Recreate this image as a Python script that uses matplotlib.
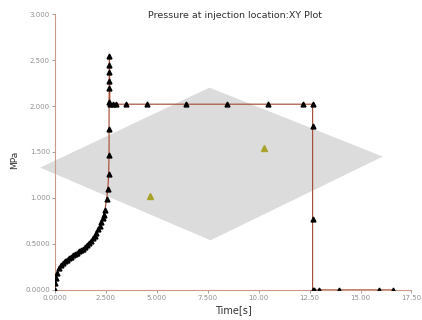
import numpy as np
import matplotlib.pyplot as plt
from matplotlib.patches import Polygon
from matplotlib.ticker import FixedLocator, FixedFormatter

# datos (tiempo en s, presion en MPa)
tiempo = [0.0, 0.03, 0.06, 0.10, 0.18, 0.28, 0.38, 0.48, 0.58, 0.68, 0.78, 0.88,
          0.98, 1.08, 1.18, 1.28, 1.38, 1.48, 1.58, 1.68, 1.78, 1.88, 1.96, 2.04,
          2.12, 2.20, 2.27, 2.34, 2.40, 2.46, 2.54, 2.60, 2.64, 2.66, 2.66, 2.66,
          2.67, 2.67, 2.67, 2.67, 2.68, 2.70, 2.85, 3.00, 3.50, 4.54, 6.44, 8.45,
          10.45, 12.19, 12.65, 12.65, 12.65, 12.65, 12.70, 12.97, 13.93, 15.90, 16.60]
presion = [0.0, 0.08, 0.13, 0.18, 0.24, 0.27, 0.29, 0.31, 0.33, 0.345, 0.36, 0.375,
           0.39, 0.405, 0.42, 0.435, 0.45, 0.47, 0.49, 0.51, 0.53, 0.56, 0.59, 0.62,
           0.66, 0.70, 0.74, 0.78, 0.82, 0.87, 0.99, 1.10, 1.26, 1.47, 1.75, 2.04,
           2.20, 2.27, 2.37, 2.45, 2.54, 2.02, 2.02, 2.02, 2.02, 2.02, 2.02, 2.02,
           2.02, 2.02, 2.02, 1.78, 0.77, 0.0, 0.0, 0.0, 0.0, 0.0, 0.0]

# pieza gris de fondo y marcadores verdes
pieza_x = [-0.72, 7.59, 16.09, 7.64]
pieza_y = [1.33, 2.20, 1.45, 0.54]
verdes_x = [4.69, 10.25]
verdes_y = [1.02, 1.54]

xticks = [0, 2.5, 5, 7.5, 10, 12.5, 15, 17.5]
xlabels = ["0.0000", "2.500", "5.000", "7.500", "10.00", "12.50", "15.00", "17.50"]
yticks = [0, 0.5, 1.0, 1.5, 2.0, 2.5, 3.0]
ylabels = ["0.0000", "0.5000", "1.000", "1.500", "2.000", "2.500", "3.000"]

fig = plt.figure(figsize=(4.22, 3.2), dpi=100)
ax = fig.add_axes([0.130, 0.094, 0.845, 0.862])

ax.add_patch(Polygon(list(zip(pieza_x, pieza_y)), closed=True, facecolor='#dcdcdc',
                     edgecolor='none', clip_on=False, zorder=0))
ax.plot(verdes_x, verdes_y, '^', color='#a9a32c', markersize=5, zorder=2)
ax.plot(tiempo, presion, '-', color='#a5442c', linewidth=0.8, zorder=3)
ax.plot(tiempo, presion, '^', color='black', markersize=3.5, zorder=4)

ax.set_xlim(0, 17.5)
ax.set_ylim(0, 3.0)
ax.xaxis.set_major_locator(FixedLocator(xticks))
ax.xaxis.set_major_formatter(FixedFormatter(xlabels))
ax.yaxis.set_major_locator(FixedLocator(yticks))
ax.yaxis.set_major_formatter(FixedFormatter(ylabels))
ax.tick_params(labelsize=5, colors='#909090', length=2, width=0.6, pad=1.5)

for s in ['top', 'right']:
    ax.spines[s].set_visible(False)
for s in ['left', 'bottom']:
    ax.spines[s].set_color('#c99a84')
    ax.spines[s].set_linewidth(0.8)

ax.set_xlabel("Time[s]", fontsize=7, color='#303030')
ax.xaxis.set_label_coords(0.5, -0.055)
ax.set_ylabel("MPa", fontsize=6.5, color='#303030')
ax.yaxis.set_label_coords(-0.10, 0.47)
fig.text(0.557, 0.953, "Pressure at injection location:XY Plot", fontsize=6.8,
         color='#303030', ha='center', va='center')

fig.savefig("out.png", dpi=100)
